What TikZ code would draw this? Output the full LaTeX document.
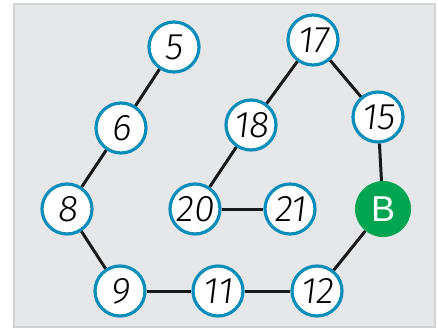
\documentclass[tikz,border=0pt]{standalone}
\usepackage{fontspec}
\setmainfont{Liberation Sans}
\newfontfamily\numfont[FakeSlant=0.12]{Fira Sans Light}
\definecolor{bgray}{HTML}{E6E7E9}
\definecolor{bline}{HTML}{D2D3D5}
\definecolor{nblue}{HTML}{0A8DB8}
\definecolor{ngreen}{HTML}{00A551}
\tikzset{
  num/.style={circle, draw=nblue, line width=3.2pt, fill=white, minimum size=50pt, inner sep=0pt, font=\numfont\fontsize{37}{37}\selectfont},
  bnode/.style={circle, fill=ngreen, minimum size=56pt, inner sep=0pt, text=white, font=\fontsize{36}{36}\selectfont},
  link/.style={line width=3pt, draw=black!90}
}
\begin{document}
\begin{tikzpicture}[x=1pt,y=-1pt]
\useasboundingbox (0,0) rectangle (438,329);
\draw[fill=bgray, draw=bline, line width=2pt] (14,4) rectangle (435,327);
\node[num] (n5) at (174,47) {5};
\node[num] (n6) at (121,128) {6};
\node[num] (n8) at (67,209) {8};
\node[num] (n9) at (120,291) {9};
\node[num] (n11) at (218,291) {11};
\node[num] (n12) at (317,291) {12};
\node[bnode] (nB) at (383,209) {B};
\node[num] (n15) at (378,117) {15};
\node[num] (n17) at (313,40) {17};
\node[num] (n18) at (251,125) {18};
\node[num] (n20) at (195,209) {20};
\node[num] (n21) at (290,209) {21};
\draw[link] (n5) -- (n6);
\draw[link] (n6) -- (n8);
\draw[link] (n8) -- (n9);
\draw[link] (n9) -- (n11);
\draw[link] (n11) -- (n12);
\draw[link] (n12) -- (nB);
\draw[link] (nB) -- (n15);
\draw[link] (n15) -- (n17);
\draw[link] (n17) -- (n18);
\draw[link] (n18) -- (n20);
\draw[link] (n20) -- (n21);
\end{tikzpicture}
\end{document}
